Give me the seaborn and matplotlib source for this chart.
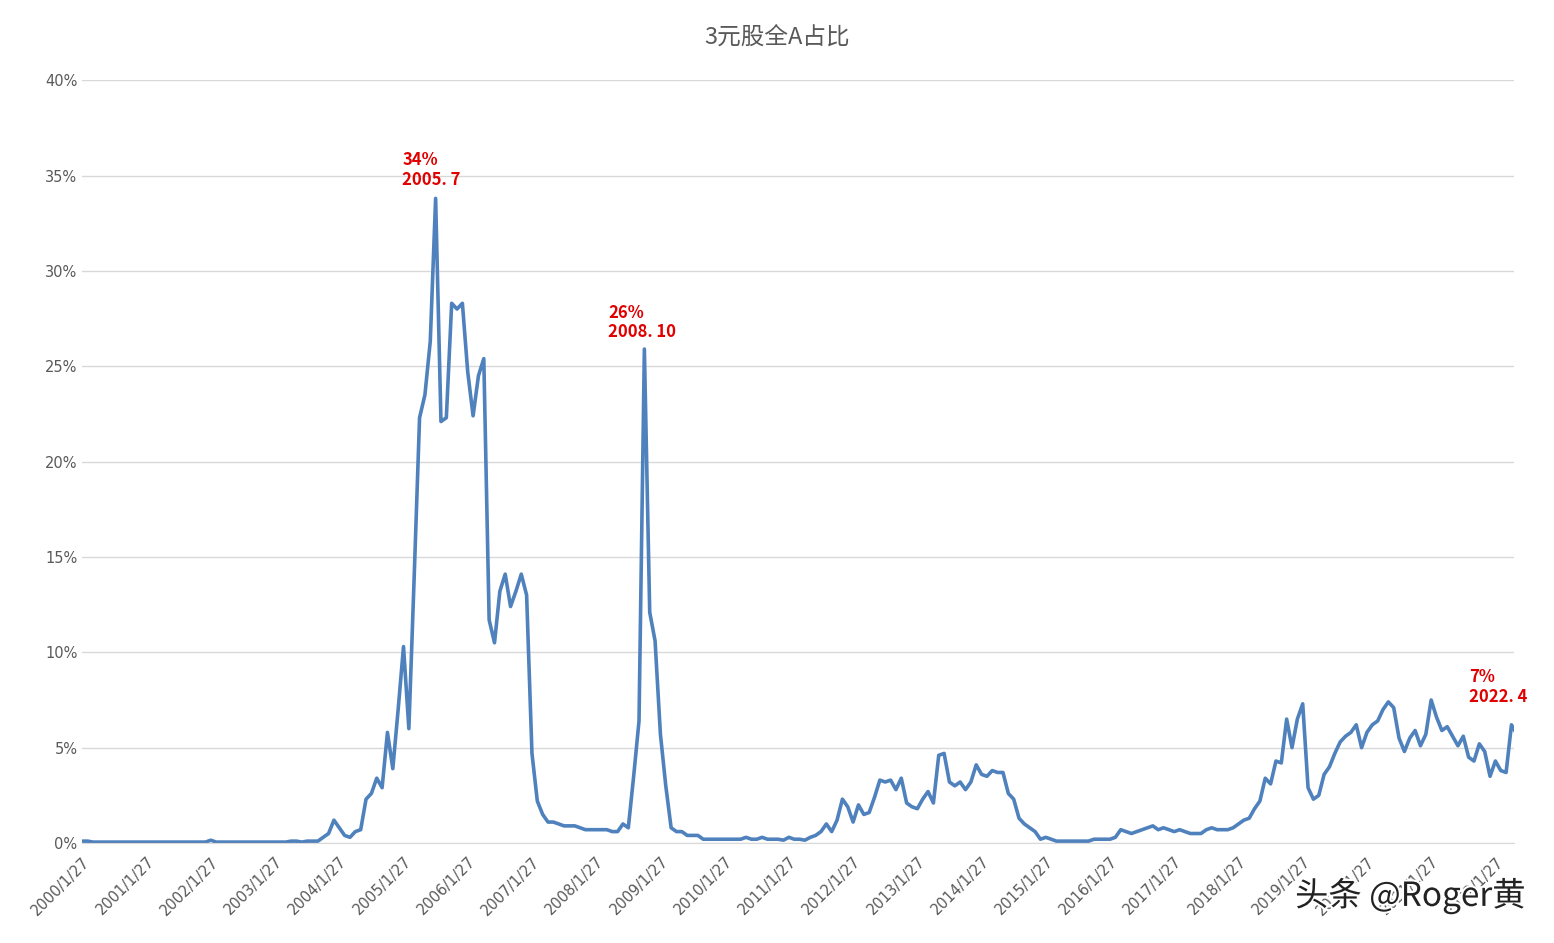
import matplotlib
matplotlib.use("Agg")
import matplotlib.pyplot as plt
import matplotlib.patheffects as pe
import numpy as np
import seaborn as sns

# 月度数据（%），按年份
y2000 = [0.1, 0.1, 0.05, 0.05, 0.05, 0.05, 0.05, 0.05, 0.05, 0.05, 0.05, 0.05]
y2001 = [0.05] * 12
y2002 = [0.15, 0.05, 0.05, 0.05, 0.05, 0.05, 0.05, 0.05, 0.05, 0.05, 0.05, 0.05]
y2003 = [0.05, 0.05, 0.05, 0.1, 0.1, 0.05, 0.1, 0.1, 0.1, 0.3, 0.5, 1.2]
y2004 = [0.8, 0.4, 0.3, 0.6, 0.7, 2.3, 2.6, 3.4, 2.9, 5.8, 3.9, 7.0]
y2005 = [10.3, 6.0, 14.0, 22.3, 23.5, 26.3, 33.8, 22.1, 22.3, 28.3, 28.0, 28.3]
y2006 = [24.7, 22.4, 24.5, 25.4, 11.7, 10.5, 13.2, 14.1, 12.4, 13.2, 14.1, 13.0]
y2007 = [4.7, 2.2, 1.5, 1.1, 1.1, 1.0, 0.9, 0.9, 0.9, 0.8, 0.7, 0.7]
y2008 = [0.7, 0.7, 0.7, 0.6, 0.6, 1.0, 0.8, 3.5, 6.4, 25.9, 12.1, 10.6]
y2009 = [5.7, 3.0, 0.8, 0.6, 0.6, 0.4, 0.4, 0.4, 0.2, 0.2, 0.2, 0.2]
y2010 = [0.2, 0.2, 0.2, 0.2, 0.3, 0.2, 0.2, 0.3, 0.2, 0.2, 0.2, 0.15]
y2011 = [0.3, 0.2, 0.2, 0.15, 0.3, 0.4, 0.6, 1.0, 0.6, 1.2, 2.3, 1.9]
y2012 = [1.1, 2.0, 1.5, 1.6, 2.4, 3.3, 3.2, 3.3, 2.8, 3.4, 2.1, 1.9]
y2013 = [1.8, 2.3, 2.7, 2.1, 4.6, 4.7, 3.2, 3.0, 3.2, 2.8, 3.2, 4.1]
y2014 = [3.6, 3.5, 3.8, 3.7, 3.7, 2.6, 2.3, 1.3, 1.0, 0.8, 0.6, 0.2]
y2015 = [0.3, 0.2, 0.1, 0.1, 0.1, 0.1, 0.1, 0.1, 0.1, 0.2, 0.2, 0.2]
y2016 = [0.2, 0.3, 0.7, 0.6, 0.5, 0.6, 0.7, 0.8, 0.9, 0.7, 0.8, 0.7]
y2017 = [0.6, 0.7, 0.6, 0.5, 0.5, 0.5, 0.7, 0.8, 0.7, 0.7, 0.7, 0.8]
y2018 = [1.0, 1.2, 1.3, 1.8, 2.2, 3.4, 3.1, 4.3, 4.2, 6.5, 5.0, 6.5]
y2019 = [7.3, 2.9, 2.3, 2.5, 3.6, 4.0, 4.7, 5.3, 5.6, 5.8, 6.2, 5.0]
y2020 = [5.8, 6.2, 6.4, 7.0, 7.4, 7.1, 5.5, 4.8, 5.5, 5.9, 5.1, 5.7]
y2021 = [7.5, 6.6, 5.9, 6.1, 5.6, 5.1, 5.6, 4.5, 4.3, 5.2, 4.8, 3.5]
y2022 = [4.3, 3.8, 3.7, 6.2, 5.7]

years = list(range(2000, 2023))
values = np.array(y2000 + y2001 + y2002 + y2003 + y2004 + y2005 + y2006 + y2007
                  + y2008 + y2009 + y2010 + y2011 + y2012 + y2013 + y2014 + y2015
                  + y2016 + y2017 + y2018 + y2019 + y2020 + y2021 + y2022)
tick_labels = [f"{y}/1/27" for y in years]

sns.set_style("white")
plt.rcParams['font.family'] = ['Noto Sans CJK SC', 'DejaVu Sans']

fig = plt.figure(figsize=(15.54, 9.43), dpi=100)
ax = fig.add_axes([0.053, 0.106, 0.921, 0.809])

x = np.arange(len(values))
sns.lineplot(x=x, y=values, ax=ax, color='#4f81bd', linewidth=2.6)

ax.set_xlim(0, len(values) - 1.6)
ax.set_ylim(0, 40)
ax.set_yticks(range(0, 41, 5))
ax.set_yticklabels([f"{v}%" for v in range(0, 41, 5)], color='#595959', fontsize=10.5,
                   family='DejaVu Sans')
ax.set_xticks([12 * i for i in range(len(years))])
ax.set_xticklabels(tick_labels, rotation=45, ha='right', rotation_mode='anchor',
                   color='#595959', fontsize=10.5, family='DejaVu Sans')
ax.yaxis.grid(True, color='#d9d9d9', linewidth=1)
for s in ['top', 'right', 'left']:
    ax.spines[s].set_visible(False)
ax.spines['bottom'].set_color('#d9d9d9')
ax.tick_params(axis='x', length=5, color='#d9d9d9', pad=3)
ax.tick_params(axis='y', length=0)
ax.set_xlabel('')

fig.text(0.5, 0.96, "3元股全A占比", ha='center', va='center', fontsize=17, color='#595959')

ax.text(59.8, 34.3, "34%\n2005. 7", color='#e00000', fontsize=12, fontweight='bold', va='bottom', linespacing=1.1)
ax.text(98.2, 26.3, "26%\n2008. 10", color='#e00000', fontsize=12, fontweight='bold', va='bottom', linespacing=1.1)
ax.text(259.0, 7.2, "7%\n2022. 4", color='#e00000', fontsize=12, fontweight='bold', va='bottom', linespacing=1.1)

fig.text(0.982, 0.05, "头条 @Roger黄", ha='right', va='center', fontsize=24, color='#222222',
         path_effects=[pe.withStroke(linewidth=3, foreground='white')])

fig.savefig("out.png", dpi=100)
